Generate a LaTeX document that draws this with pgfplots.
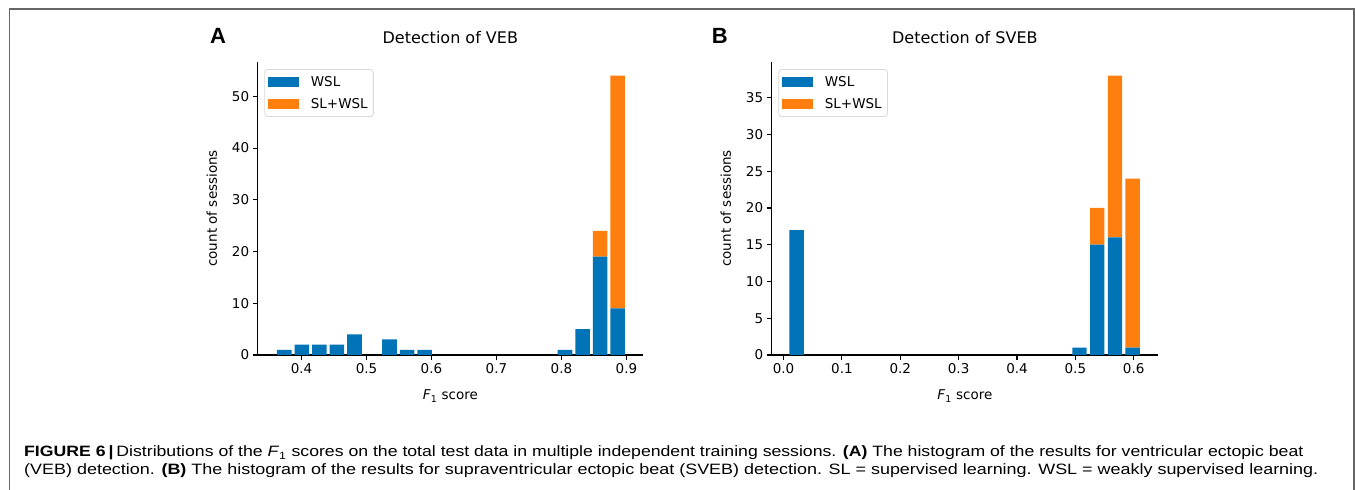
\documentclass[border=0pt]{standalone}
\usepackage{pgfplots}
\pgfplotsset{compat=1.18}
\usepackage{fontspec}
\usepackage{graphicx}
\setmainfont{DejaVu Sans}
\newfontfamily\capfont{Liberation Sans}

\definecolor{wslblue}{RGB}{0,116,183}
\definecolor{slorange}{RGB}{255,127,14}

\pgfplotsset{
  histo/.style={
    scale only axis,
    width=385.3pt, height=293.3pt,
    anchor=south west,
    axis x line*=bottom, axis y line*=left,
    axis line style={-, line width=1.3pt, black},
    tick align=outside,
    major tick length=5pt,
    every tick/.style={black, line width=1.1pt},
    ymin=0, enlargelimits=false,
    ybar stacked,
    /pgf/number format/assume math mode=true,
    tick label style={font=\fontsize{13.5}{13.5}\selectfont},
    xticklabel style={/pgf/number format/.cd, fixed, fixed zerofill, precision=1},
    label style={font=\fontsize{13.5}{13.5}\selectfont},
    title style={font=\fontsize{16}{16}\selectfont, at={(axis description cs:0.5,1)}, anchor=base, yshift=11.7pt},
    xlabel style={at={(axis description cs:0.5,-0.153)}, anchor=base},
    ylabel style={at={(axis description cs:-0.119,0.5)}, anchor=center},
    xlabel={\textit{F}\textsubscript{1} score},
    ylabel={count of sessions},
    legend style={
      at={(axis description cs:0.017,0.975)}, anchor=north west,
      draw=black!15, line width=0.8pt, rounded corners=3pt, fill=white,
      font=\fontsize{13.5}{13.5}\selectfont,
      inner xsep=3.7pt, inner ysep=5.5pt, row sep=8pt,
      nodes={inner sep=2pt, text depth=0pt},
    },
    legend cell align=left,
    legend image code/.code={
      \fill[sharp corners] (0pt,-5pt) rectangle (30.7pt,5pt);
      \path (40.5pt,0pt);
    },
  }
}

\begin{document}
\begin{tikzpicture}[x=1pt,y=1pt]
\useasboundingbox (0,0) rectangle (1355,490);
\draw[black!60, line width=1.8pt] (9.5,-5) -- (9.5,481) -- (1353.6,481) -- (1353.6,-5);

% panel A: VEB
\begin{axis}[histo,
  at={(257.7pt,135pt)},
  xmin=0.3326, xmax=0.9255, ymax=56.7,
  xtick={0.4,0.5,0.6,0.7,0.8,0.9},
  ytick={0,10,20,30,40,50},
  bar width=0.0225,
  title={Detection of VEB},
]
\addplot[fill=wslblue, draw=none] coordinates {
  (0.3735,1) (0.4005,2) (0.4275,2) (0.4545,2) (0.4815,4)
  (0.5355,3) (0.5625,1) (0.5895,1)
  (0.8055,1) (0.8325,5) (0.8595,19) (0.8865,9)
};
\addlegendentry{WSL}
\addplot[fill=slorange, draw=none] coordinates {
  (0.3735,0) (0.4005,0) (0.4275,0) (0.4545,0) (0.4815,0)
  (0.5355,0) (0.5625,0) (0.5895,0)
  (0.8055,0) (0.8325,0) (0.8595,5) (0.8865,45)
};
\addlegendentry{SL+WSL}
\end{axis}

% panel B: SVEB
\begin{axis}[histo,
  at={(771.7pt,135pt)},
  width=386.3pt,
  xmin=-0.0203, xmax=0.6416, ymax=39.9,
  xtick={0,0.1,0.2,0.3,0.4,0.5,0.6},
  ytick={0,5,10,15,20,25,30,35},
  bar width=0.0246,
  title={Detection of SVEB},
]
\addplot[fill=wslblue, draw=none] coordinates {
  (0.0224,17) (0.5072,1) (0.5375,15) (0.5678,16) (0.5981,1)
};
\addlegendentry{WSL}
\addplot[fill=slorange, draw=none] coordinates {
  (0.0224,0) (0.5072,0) (0.5375,5) (0.5678,22) (0.5981,23)
};
\addlegendentry{SL+WSL}
\end{axis}

\node[anchor=base west, inner sep=0pt, font=\capfont\bfseries\fontsize{22}{22}\selectfont] at (210,446) {A};
\node[anchor=base west, inner sep=0pt, font=\capfont\bfseries\fontsize{22}{22}\selectfont] at (711.7,446) {B};

\node[anchor=base west, inner sep=0pt, font=\capfont\fontsize{15}{17}\selectfont] at (24,33)
  {\resizebox{1279pt}{\height}{\textbf{FIGURE 6\,|}\,Distributions of the \textit{F}\textsubscript{1} scores on the total test data in multiple independent training sessions. \textbf{(A)} The histogram of the results for ventricular ectopic beat}};
\node[anchor=base west, inner sep=0pt, font=\capfont\fontsize{15}{17}\selectfont] at (24,15.5)
  {\resizebox{1294pt}{\height}{(VEB) detection. \textbf{(B)} The histogram of the results for supraventricular ectopic beat (SVEB) detection. SL = supervised learning. WSL = weakly supervised learning.}};
\end{tikzpicture}
\end{document}
